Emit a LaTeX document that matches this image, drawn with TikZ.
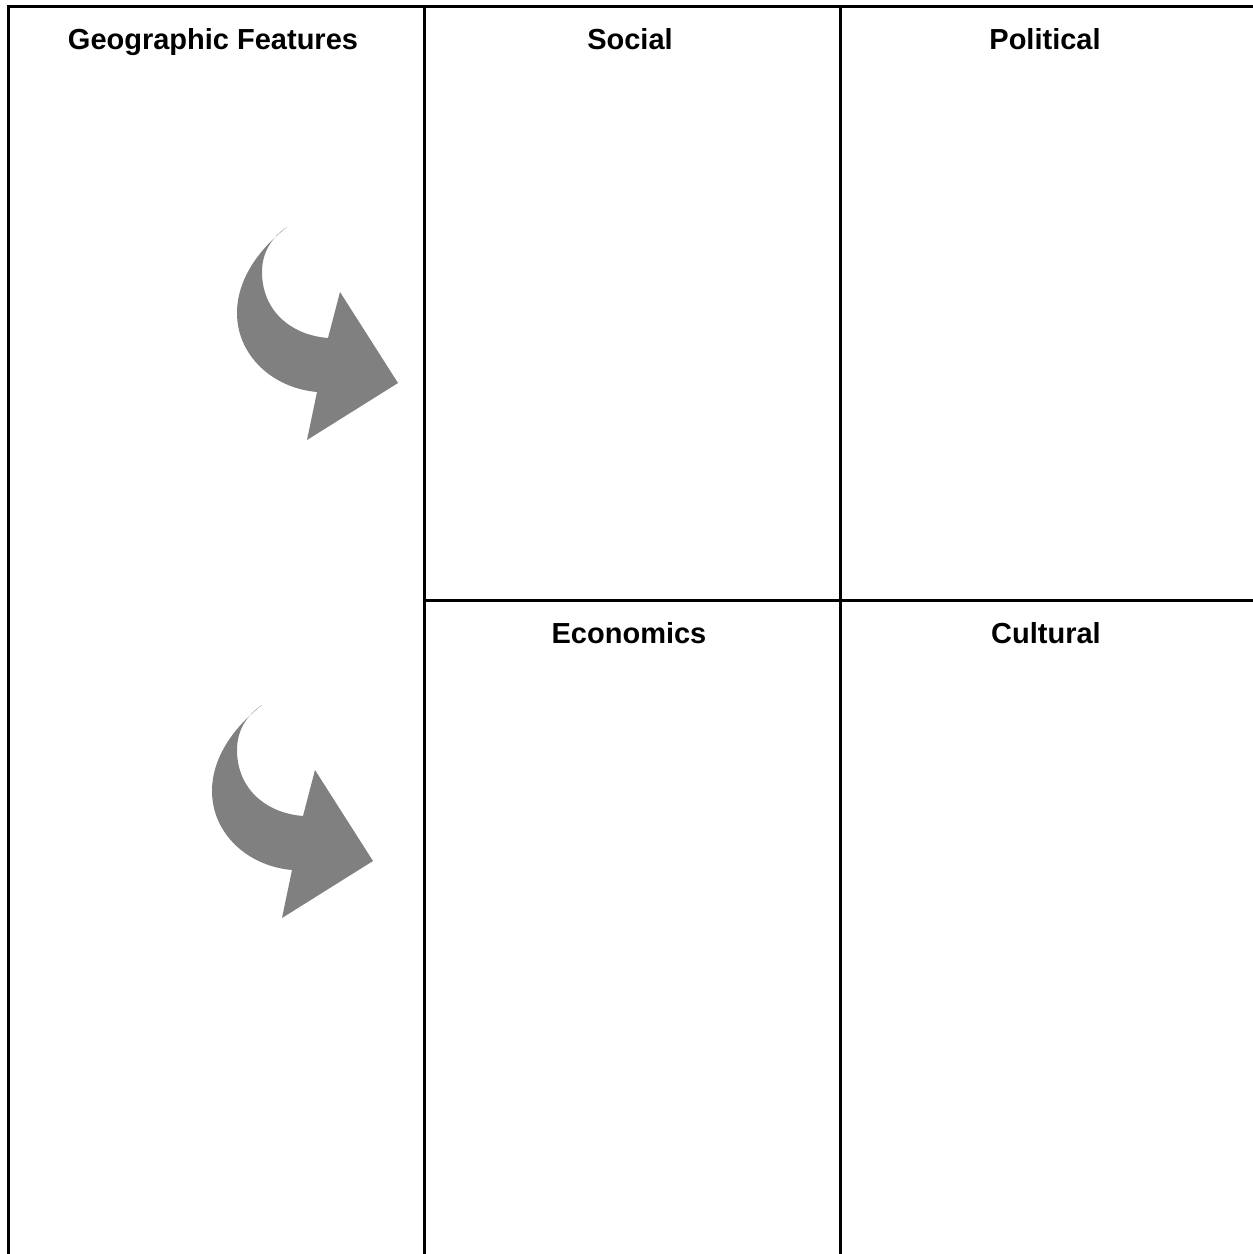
\documentclass[tikz,border=0pt]{standalone}
\usepackage{fontspec}
\setmainfont{Liberation Sans}
\usepackage{tikz}
\tikzstyle{head} = [anchor=base, inner sep=0pt, font=\fontsize{14.5}{17}\selectfont\bfseries]
\tikzstyle{rule} = [draw, line width=1.5pt]
\tikzset{curvy/.pic={
  \fill[gray] (0,0) .. controls (-29,23) and (-50,53) .. (-50,86)
    .. controls (-50,128) and (-15,161) .. (30,165) -- (20,213) -- (111,156) -- (53,65) -- (41,111)
    .. controls (3,108) and (-25,83) .. (-25,45)
    .. controls (-25,25) and (-15,10) .. (0,0) -- cycle;
}}

\begin{document}
\begin{tikzpicture}[x=0.5pt, y=-0.5pt]
\useasboundingbox (0,0) rectangle (1253,1254);
%grid:
\path[rule] (8,1254) -- (8,6) -- (1253,6);
\path[rule] (424,6) -- (424,1254);
\path[rule] (840,6) -- (840,1254);
\path[rule] (424,600) -- (1253,600);
%titles:
\node[head] (geo) at (213,49) {Geographic Features};
\node[head] (social) at (630,49) {Social};
\node[head] (political) at (1045,49) {Political};
\node[head] (economics) at (629,643) {Economics};
\node[head] (cultural) at (1046,643) {Cultural};
%arrows:
\pic at (287,227) {curvy};
\pic at (262,705) {curvy};
\end{tikzpicture}
\end{document}
